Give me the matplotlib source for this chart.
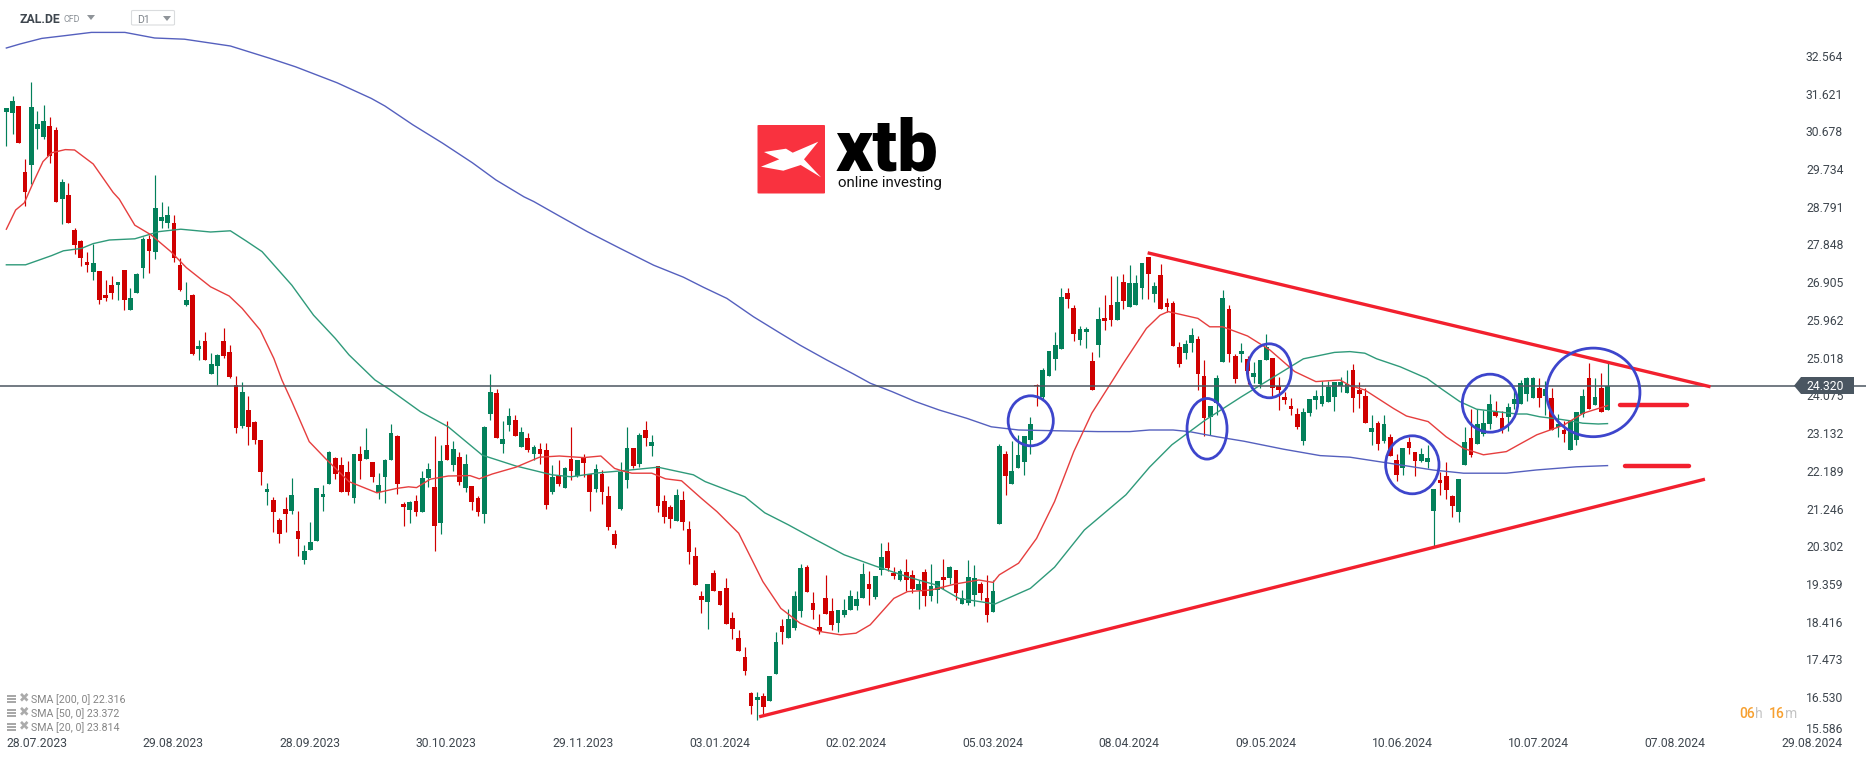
import numpy as np
import matplotlib
matplotlib.use("Agg")
import matplotlib.pyplot as plt
from matplotlib.patches import Ellipse, Polygon, Rectangle, FancyBboxPatch
from matplotlib.transforms import ScaledTranslation

plt.rcParams['font.family'] = ['Roboto', 'DejaVu Sans']

opens = [
31.16,31.14,31.31,29.66,29.83,30.74,30.54,30.81,30.71,28.99,
29.09,28.21,27.93,27.41,27.16,27.19,26.59,26.84,26.84,27.21,
26.21,26.64,27.26,27.98,27.66,28.44,28.39,28.39,27.34,26.34,
26.59,25.24,25.43,24.61,24.81,25.43,25.16,24.33,23.31,23.71,
23.41,22.96,21.66,21.46,20.96,21.24,21.19,20.69,19.96,20.21,
20.44,21.54,21.86,22.51,22.34,22.16,21.51,22.61,22.49,22.41,
21.66,22.04,22.46,23.06,21.36,21.21,21.44,21.16,22.01,21.79,
20.88,22.84,22.33,22.54,21.76,21.81,21.51,21.11,23.61,24.13,
22.86,23.33,23.46,22.79,23.01,22.61,22.73,22.71,21.66,22.06,
21.76,22.49,22.06,22.51,22.11,21.74,22.11,21.56,20.61,21.24,
21.96,22.76,22.36,23.21,22.81,22.31,21.44,21.29,20.93,21.46,
20.74,20.06,19.06,18.92,19.64,19.19,19.26,18.51,18.01,17.54,
16.64,16.46,16.56,16.44,17.11,18.31,18.01,18.26,18.69,19.79,
18.89,18.28,19.01,18.69,18.39,18.59,18.71,18.81,19.01,19.36,
19.03,19.71,20.19,19.64,19.46,19.66,19.59,19.21,19.66,19.06,
19.21,19.54,19.51,19.71,18.86,18.89,19.09,19.36,19.01,18.66,
20.86,22.61,21.86,22.26,22.41,22.96,24.34,24.04,24.56,24.99,
25.24,26.64,26.26,25.46,25.66,24.94,25.34,26.01,26.34,25.96,
26.91,26.29,26.33,26.76,27.54,26.61,27.08,26.39,26.39,25.29,
25.14,25.38,25.49,24.56,23.53,23.88,24.91,26.23,25.06,25.11,
24.98,24.53,24.36,24.96,25.01,24.31,24.03,23.81,23.61,22.93,
23.63,23.96,23.86,23.91,24.03,24.31,24.13,24.71,24.21,24.06,
23.16,23.38,22.93,23.03,22.46,22.26,22.91,22.66,22.43,22.41,
21.18,21.96,22.06,21.56,21.16,22.33,23.01,22.86,23.11,23.36,
23.66,23.51,23.53,23.86,23.86,24.11,24.01,24.26,24.06,24.01,
23.29,23.21,22.71,22.96,23.61,24.51,23.83,24.26,23.71]
closes = [
31.26,31.43,30.39,29.16,31.28,30.86,30.94,30.06,28.91,29.41,
28.39,27.84,27.51,27.34,27.39,26.46,26.51,26.64,26.91,26.46,
26.51,27.11,27.98,27.69,28.76,28.54,28.59,27.51,26.71,26.46,
25.11,25.31,24.96,24.86,25.09,25.06,24.53,23.27,24.16,23.29,
22.96,22.16,21.74,21.16,20.61,21.11,21.59,20.49,20.19,20.41,
21.76,21.61,22.66,22.11,21.66,21.66,22.61,22.44,22.71,22.04,
21.84,22.46,23.13,21.86,21.29,21.41,21.16,22.01,22.24,20.81,
22.44,22.46,22.73,21.91,22.36,21.41,21.16,23.29,24.16,23.01,
22.99,23.56,23.06,23.16,22.71,22.79,22.61,21.34,22.04,21.86,
22.26,22.19,22.46,22.39,21.66,22.24,21.66,20.79,20.34,22.16,
22.76,22.31,23.09,23.01,22.91,21.31,21.04,20.99,21.59,20.91,
20.16,19.34,18.96,19.36,19.19,18.84,18.36,18.24,17.69,17.19,
16.31,16.54,16.29,17.06,17.91,18.16,18.49,19.06,19.76,19.16,
18.71,18.18,18.61,18.34,18.71,18.71,19.06,18.99,19.61,19.24,
19.56,20.04,19.76,19.56,19.69,19.46,19.24,19.36,19.06,19.31,
19.44,19.46,19.79,19.14,19.01,19.54,19.51,19.14,18.59,19.19,
22.81,22.06,22.18,22.58,23.06,23.36,24.31,24.71,25.19,25.34,
26.54,26.49,25.61,25.74,25.74,24.21,25.98,25.93,25.96,26.41,
26.43,26.89,26.89,27.38,27.11,26.81,26.23,26.28,25.31,24.86,
25.36,25.58,24.61,23.51,23.81,24.51,26.51,25.11,24.48,25.18,
24.68,24.63,24.96,25.29,24.26,24.21,23.96,23.73,23.28,23.66,
23.98,24.06,24.06,24.28,24.41,24.41,24.36,24.01,24.11,23.38,
23.26,22.86,23.36,22.56,22.08,22.76,22.76,22.43,22.61,22.51,
21.73,21.88,21.71,21.31,21.98,22.91,22.58,23.36,23.39,23.86,
23.56,23.23,23.79,23.99,24.39,24.51,24.51,24.01,24.23,23.21,
23.36,23.11,23.46,23.66,24.06,23.74,24.03,23.66,24.32]
highs = [
31.26,31.56,31.31,29.98,31.91,31.19,31.33,31.03,30.79,29.49,
29.39,28.26,27.96,27.66,27.86,27.19,26.96,27.06,26.91,27.21,
26.76,27.14,28.03,28.09,29.59,28.91,28.81,28.59,27.51,26.91,
26.61,25.46,25.66,25.13,25.11,25.76,25.33,24.56,24.41,24.06,
23.43,22.96,21.89,21.53,21.01,21.53,22.01,21.19,20.34,20.91,
21.76,21.84,22.69,22.54,22.54,22.44,22.61,22.81,23.26,22.41,
22.14,22.49,23.36,23.09,21.41,21.44,21.59,22.19,22.39,23.06,
22.84,23.43,22.94,22.66,22.61,21.81,21.56,23.31,24.61,24.24,
23.43,23.76,23.59,23.29,23.14,22.84,22.89,22.89,22.34,22.46,
22.29,23.29,22.46,22.61,22.11,22.36,22.21,21.81,20.71,22.41,
23.29,22.76,23.14,23.44,23.09,22.31,21.59,21.34,21.74,21.69,
20.94,20.29,19.19,19.36,19.71,19.19,19.51,18.66,18.21,17.79,
16.66,16.66,16.64,17.06,18.16,18.49,18.74,19.19,19.86,19.84,
19.16,18.61,19.59,19.01,18.71,18.99,19.21,19.19,19.88,19.69,
19.56,20.39,20.41,19.79,19.74,19.99,19.71,19.46,19.74,19.86,
19.44,19.99,19.81,19.71,19.21,19.96,19.84,19.41,19.59,19.46,
22.86,22.69,22.93,23.08,23.06,23.53,24.36,24.76,25.19,25.66,
26.76,26.76,26.34,25.81,25.79,25.16,26.29,26.58,27.06,27.06,
27.11,27.33,27.08,27.38,27.54,26.91,27.36,26.51,26.44,25.41,
25.46,25.76,25.56,24.96,23.81,24.59,26.71,26.33,25.11,25.39,
25.06,24.91,24.96,25.61,25.01,24.53,24.16,24.01,23.76,23.76,
23.98,24.21,24.43,24.43,24.41,24.53,24.71,24.86,24.41,24.26,
23.58,23.43,23.58,23.11,22.61,22.76,23.03,22.66,22.76,22.83,
21.73,22.16,22.41,21.58,21.98,23.29,23.74,23.74,23.70,24.11,
23.93,23.69,23.89,24.23,24.46,24.53,24.53,24.51,24.43,24.26,
23.61,23.43,23.46,23.66,24.23,24.89,24.51,24.64,24.89]
lows = [
30.31,30.61,30.39,28.82,29.36,30.24,30.49,29.89,28.91,28.36,
28.39,27.61,27.31,27.16,26.96,26.36,26.43,26.49,26.46,26.21,
26.21,26.64,27.01,27.14,27.49,28.26,28.26,27.41,26.69,26.31,
25.09,24.96,24.96,24.61,24.33,25.01,24.51,23.14,23.27,22.84,
22.86,21.83,21.33,20.66,20.39,20.66,21.11,20.06,19.86,20.21,
20.44,21.19,21.86,21.99,21.66,21.59,21.39,21.99,22.49,21.91,
21.49,21.39,22.46,21.61,20.81,20.88,21.06,21.16,21.79,20.19,
20.61,22.46,22.19,21.83,21.66,21.21,21.06,20.88,23.46,23.01,
22.64,23.19,23.06,22.79,22.66,22.46,22.36,21.24,21.61,21.81,
21.76,21.96,22.03,22.03,21.18,21.66,21.36,20.71,20.26,21.21,
21.76,22.26,22.29,22.81,22.56,21.16,20.88,20.76,20.93,20.71,
19.86,19.34,18.64,18.24,19.19,18.84,18.36,17.99,17.69,17.09,
16.11,15.96,16.11,16.44,17.11,17.86,18.01,18.21,18.54,19.16,
18.49,18.11,18.61,18.21,18.16,18.54,18.71,18.71,19.01,18.84,
18.99,19.59,19.69,19.49,19.44,19.19,19.14,18.74,18.81,18.94,
18.89,19.24,19.36,18.96,18.86,18.84,18.81,18.96,18.41,18.66,
20.86,21.58,21.86,22.26,22.08,22.61,23.81,23.99,24.56,24.71,
25.24,26.26,25.44,25.34,25.26,24.21,25.04,25.71,25.81,25.96,
26.23,26.29,26.33,26.48,26.48,26.41,26.23,26.16,25.31,24.79,
24.98,25.16,24.21,23.06,23.08,23.59,24.91,24.91,24.38,24.91,
24.36,24.38,24.26,24.96,24.06,23.71,23.86,23.58,23.23,22.83,
23.56,23.73,23.81,23.91,23.68,24.16,24.13,23.66,23.76,23.38,
22.83,22.71,22.88,22.56,21.93,22.09,22.61,22.06,22.41,22.26,
20.29,21.59,21.48,21.03,20.91,22.33,22.53,22.86,23.06,23.23,
23.53,23.13,23.19,23.74,23.86,23.93,24.01,23.79,23.59,23.21,
23.03,22.91,22.71,22.83,23.53,23.74,23.83,23.66,23.71]

sma200_x = [0,2.2,5.7,9.5,13.7,19.1,23.9,28.7,36.1,42.5,46.6,53.3,58.8,61,65.5,70.3,75.1,78.9,83.4,85,89.1,93.6,98.9,
            104.3,109.1,112.3,116.1,120.4,124.7,127.9,132.2,136.5,139.2,142.7,146.5,150.3,154.8,158.7,163.1,169.5,175.9,
            181,184.2,188,190.6,195.1,199.4,205.8,211.7,216.5,222.4,229.9,234.8,241.7,246.5,253,258]
sma200_y = [32.76,32.86,33.0,33.07,33.15,33.15,33.01,32.98,32.81,32.50,32.29,31.89,31.50,31.31,30.84,30.38,29.89,29.46,29.04,28.92,28.56,28.17,27.75,
            27.33,27.03,26.78,26.50,26.04,25.63,25.33,24.96,24.61,24.38,24.17,23.92,23.71,23.5,23.29,23.21,23.19,23.17,
            23.17,23.21,23.21,23.17,23.04,22.93,22.73,22.57,22.53,22.39,22.21,22.13,22.13,22.21,22.29,22.32]
sma50_x = [0,3.1,7.3,9.2,12.1,14,16.6,20.7,24.6,28.1,32.9,36.1,38.6,41.2,46,49.5,53,55.2,59.4,61.6,66.7,71.2,76.7,82.1,87.9,91,95.5,99.2,
           105,110.7,112.6,119,122.2,126,130.5,135,140,145.2,149.7,153.5,159.3,165,168.9,173.7,180.4,184.2,187.8,193.2,199,
           209,214,216.5,218.9,220.8,224.6,228.9,231.5,234.2,236.9,240.1,243.4,245,247.1,249.8,252,254,256.5,258]
sma50_y = [27.34,27.34,27.57,27.69,27.75,27.87,27.96,27.99,28.17,28.23,28.16,28.19,27.94,27.67,26.83,26.08,25.5,25.09,24.46,24.24,23.67,23.29,22.58,22.31,22.09,22.04,22.14,22.19,
           22.28,22.09,21.92,21.54,21.14,20.84,20.46,20.09,19.81,19.54,19.34,19.0,18.86,19.25,19.78,20.71,21.59,22.28,22.84,23.46,24.04,
           24.99,25.15,25.17,25.13,24.99,24.79,24.5,24.21,23.92,23.73,23.67,23.61,23.61,23.54,23.49,23.44,23.38,23.36,23.37]
sma20_x = [0,1.5,2.9,4.4,5.9,7.3,9.5,11,14,17.2,18.2,20.7,23.3,26.5,29,32.9,35.9,38,40.9,43.1,44.4,46,48.8,51.4,55.2,59.7,62.9,64.8,66.1,68.3,71.2,74.7,76.2,78.3,82.1,85.9,89.1,93,95.8,98,99.2,
           100.8,104,106.2,108.8,112,114.5,118,121.9,124.8,127.9,131.2,134.4,136.9,139.2,143,145.2,149,152.9,156.7,159,160,163.1,166,168.9,172,174.9,178.3,
           180,183.7,185.9,187.2,192,193.9,196,200,203.6,207.6,211,214.9,216.5,218.9,223.5,225.6,229.1,232,234.8,238,241.7,243.9,246.6,250.9,254.1,258]
sma20_y = [28.23,28.71,28.89,29.42,29.92,30.14,30.22,30.21,29.86,29.15,28.98,28.33,28.09,27.67,27.27,26.79,26.56,26.25,25.71,25.0,24.46,23.92,22.92,22.5,21.92,21.64,21.75,21.79,21.77,21.98,22.06,22.07,21.99,22.11,22.28,22.53,22.56,22.52,22.56,22.25,22.19,
           22.13,22.13,21.99,21.94,21.5,21.17,20.63,19.42,18.75,18.38,18.17,18.09,18.13,18.34,19.0,19.17,19.21,19.36,19.46,19.4,19.59,19.88,20.5,21.42,22.67,23.63,24.46,
           24.88,25.75,26.08,26.17,26.0,25.79,25.79,25.56,25.21,24.67,24.42,24.46,24.32,24.21,23.75,23.56,23.42,23.04,22.75,22.59,22.67,22.86,23.09,23.33,23.63,23.82]

trend_upper_x, trend_upper_y = [183.9, 274.6], [27.64, 24.29]
trend_lower_x, trend_lower_y = [121.3, 273.7], [16.04, 21.98]
level_a_x, level_a_y = [260.0, 270.8], [23.83, 23.83]
level_b_x, level_b_y = [260.8, 271.1], [22.31, 22.31]

ell_x = [165.06, 193.47, 203.5, 226.55, 239.07, 255.7]
ell_y = [23.44, 23.24, 24.69, 22.34, 23.88, 24.15]
ell_w = [7.28, 6.45, 7.09, 8.6, 8.93, 15.05]
ell_h = [1.25, 1.515, 1.35, 1.45, 1.45, 2.215]

last_price = 24.320
y_ticks = [32.564,31.621,30.678,29.734,28.791,27.848,26.905,25.962,25.018,24.075,
           23.132,22.189,21.246,20.302,19.359,18.416,17.473,16.530,15.586]
date_labels = ['28.07.2023','29.08.2023','28.09.2023','30.10.2023','29.11.2023','03.01.2024','02.02.2024',
               '05.03.2024','08.04.2024','09.05.2024','10.06.2024','10.07.2024','07.08.2024','29.08.2024']
date_pos = [22 * k for k in range(len(date_labels))]
legend_lines = ['SMA [200, 0] 22.316', 'SMA [50, 0] 23.372', 'SMA [20, 0] 23.814']

UP, DOWN = '#03805A', '#D00000'
TXT = '#3E464E'

W, H = 1866, 759
fig = plt.figure(figsize=(W / 100, H / 100), dpi=100, facecolor='white')
ax = fig.add_axes([0, 0, 1, 1])
ax.set_xlim(-1.023, 299.65)
ax.set_ylim(14.985, 33.96)
for s in ax.spines.values():
    s.set_visible(False)

o, c, h, l = map(np.array, (opens, closes, highs, lows))
x = np.arange(len(o))
cols = np.where(c >= o, UP, DOWN)
ax.vlines(x, l, h, colors=cols, lw=0.85, zorder=2)
ax.bar(x, np.abs(c - o), bottom=np.minimum(o, c), width=0.76, color=cols, lw=0, zorder=3)

ax.plot(sma200_x, sma200_y, color='#5560BE', lw=1.0, zorder=4)
ax.plot(sma50_x, sma50_y, color='#2F9A7A', lw=1.0, zorder=4)
ax.plot(sma20_x, sma20_y, color='#E63E3E', lw=1.0, zorder=4)

ax.axhline(last_price, color='#4C5660', lw=1.1, zorder=4.5)

RED = '#F2202E'
ax.plot(trend_upper_x, trend_upper_y, color=RED, lw=2.4, zorder=6, solid_capstyle='butt')
ax.plot(trend_lower_x, trend_lower_y, color=RED, lw=2.4, zorder=6, solid_capstyle='butt')
ax.plot(level_a_x, level_a_y, color=RED, lw=3.2, zorder=6, solid_capstyle='round')
ax.plot(level_b_x, level_b_y, color=RED, lw=3.2, zorder=6, solid_capstyle='round')
for ex, ey, ew, eh in zip(ell_x, ell_y, ell_w, ell_h):
    ax.add_patch(Ellipse((ex, ey), ew, eh, fill=False, ec='#3D45CC', lw=2.0, zorder=7))

ax.set_xticks(date_pos)
ax.set_xticklabels(date_labels, ha='left')
ax.tick_params(axis='x', length=0, pad=-15.5, labelsize=8.7, labelcolor=TXT)
ax.yaxis.tick_right()
ax.set_yticks(y_ticks)
ax.set_yticklabels([f'{v:.3f}' for v in y_ticks], ha='left')
ax.tick_params(axis='y', length=0, pad=-43.2, labelsize=8.7, labelcolor=TXT)
# the lowest price label sits a little above its level, clear of the date labels
lab = ax.get_yticklabels()[-1]
lab.set_transform(lab.get_transform() + ScaledTranslation(0, 5.2 / 72, fig.dpi_scale_trans))

T = ax.transAxes
def px(xp, yp):
    return xp / W, 1 - yp / H

# last price tag
tag = [px(1794, 385.7), px(1801, 377), px(1854, 377), px(1854, 394), px(1801, 394)]
ax.add_patch(Polygon(tag, closed=True, transform=T, fc='#4A5661', ec='none', zorder=8))
ax.text(*px(1806, 386), f'{last_price:.3f}', transform=T, color='white', fontsize=8.7, va='center', ha='left', zorder=9)

# instrument header
ax.text(*px(20, 19.5), 'ZAL.DE', transform=T, color='#3E464E', fontsize=8.8, fontweight='bold', va='center')
ax.text(*px(64, 19.5), 'CFD', transform=T, color='#8A9096', fontsize=6.4, va='center')
ax.add_patch(Polygon([px(87, 15), px(95, 15), px(91, 20)], transform=T, fc='#8F9499', ec='none'))
ax.add_patch(FancyBboxPatch(px(131.5, 25), 43 / W, 14.5 / H, boxstyle='round,pad=0,rounding_size=0.001',
                            transform=T, fc='white', ec='#DADCDE', lw=0.8))
ax.text(*px(137, 20), 'D1', transform=T, color='#7E848A', fontsize=7.6, va='center')
ax.add_patch(Polygon([px(163, 16), px(171, 16), px(167, 21)], transform=T, fc='#8F9499', ec='none'))

# indicator legend
for k, line in enumerate(legend_lines):
    yc = 699.5 + 14 * k
    for dy in (-4, -1, 2):
        ax.add_patch(Rectangle(px(6.5, yc + dy + 1.2), 9.5 / W, 2 / H, transform=T, fc='#A8A8A8', ec='none'))
    ax.text(*px(24, yc - 1.5), '\u2716', transform=T, color='#ABABAB', fontsize=9, ha='center', va='center',
            family='DejaVu Sans')
    ax.text(*px(31, yc + 0.5), line, transform=T, color='#858585', fontsize=7.7, va='center')

# countdown
for tx, s, col, fw in [(1739.3, '06', '#F7A030', 'medium'), (1755.5, 'h', '#C4C4C4', 'normal'),
                       (1769.3, '16', '#F7A030', 'medium'), (1785, 'm', '#C4C4C4', 'normal')]:
    ax.text(*px(tx, 714), s, transform=T, color=col, fontsize=10, fontweight=fw, va='center')

# logo
ax.add_patch(FancyBboxPatch(px(757.5, 193.5), 67.5 / W, 68.5 / H, boxstyle='round,pad=0,rounding_size=0.0008',
                            transform=T, fc='#F9323F', ec='none', zorder=5))
mark = [(764, 152), (786, 148.7), (792.7, 152.7), (818.3, 141.7), (804, 159.3), (821, 177.3),
        (800.7, 165), (783.3, 170.7), (761, 166.7), (779.3, 159.3)]
ax.add_patch(Polygon([px(*p) for p in mark], transform=T, fc='white', ec='none', zorder=6))
ax.text(*px(836, 170.3), 'xtb', transform=T, color='black', fontsize=52, fontweight='black', va='baseline', ha='left', zorder=6)
ax.text(*px(837.5, 186.5), 'online investing', transform=T, color='#111111', fontsize=10.8, fontweight='normal', va='baseline', ha='left', zorder=6)

fig.savefig('out.png', dpi=100, facecolor='white')
